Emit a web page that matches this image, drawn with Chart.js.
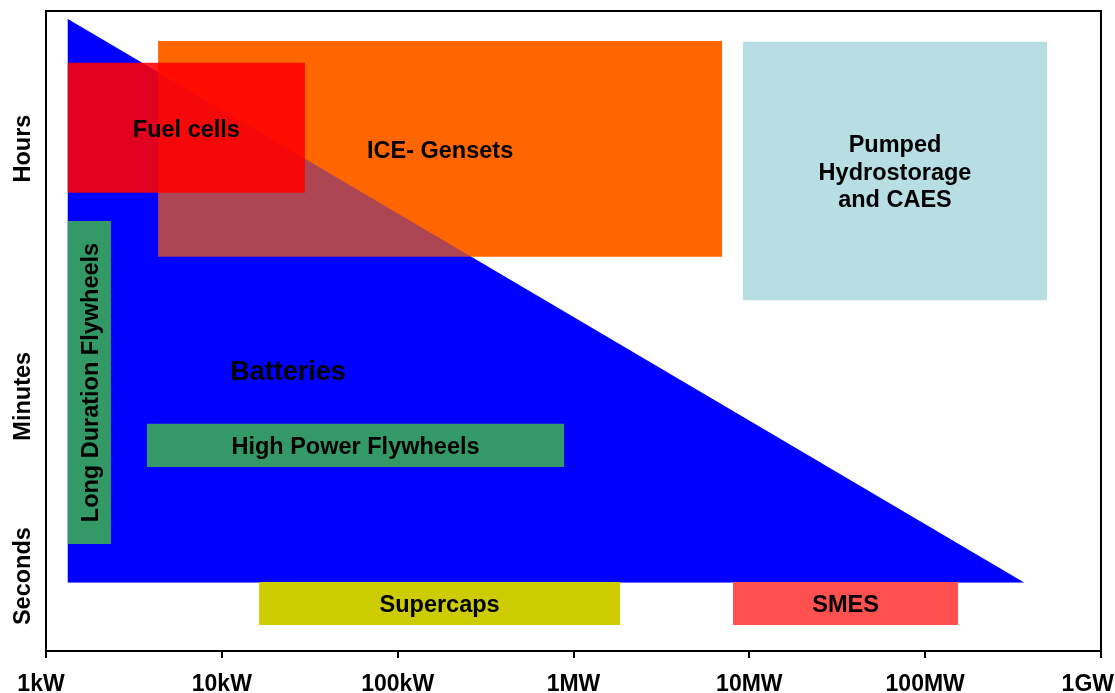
<!DOCTYPE html>
<html>
<head>
<meta charset="utf-8">
<title>Energy storage: power vs. discharge time</title>
<script src="https://cdn.jsdelivr.net/npm/chart.js@4.4.1/dist/chart.umd.min.js"></script>
<style>
  html, body { margin: 0; padding: 0; background: #fff; }
</style>
</head>
<body>
<canvas id="storageChart" width="1115" height="693"></canvas>
<script>
// --- DATA ---
// rectangles: power range in kW (log axis), duration on a 0-100 qualitative scale
const technologies = ['ICE- Gensets', 'Fuel cells', 'Pumped\nHydrostorage\nand CAES', 'Long Duration Flywheels', 'High Power Flywheels', 'Supercaps', 'SMES'];
const powerMinKW = [4.34, 1.33, 9200, 1.33, 3.75, 16.3, 8080];
const powerMaxKW = [7000, 29.7, 493000, 2.34, 884, 1840, 153800];
const durationLow = [61.6, 71.6, 54.8, 16.7, 28.75, 4.06, 4.06];
const durationHigh = [95.3, 91.9, 95.2, 67.2, 35.5, 10.8, 10.8];

// batteries triangle
const batteryPowerKW = [1.33, 1.33, 365000];
const batteryDuration = [98.75, 10.7, 10.7];
const batteryLabelPoint = [23.8, 43.5];

// axes
const powerTicks = [1, 10, 100, 1000, 10000, 100000, 1000000];
const powerTickLabels = ['1kW', '10kW', '100kW', '1MW', '10MW', '100MW', '1GW'];
const durationTicks = [11.7, 39.8, 78.5];
const durationTickLabels = ['Seconds', 'Minutes', 'Hours'];

// --- STYLE ---
const techColors = ['#FF6600', 'rgba(255,0,0,0.88)', '#B7DEE3', '#339966', '#339966', '#CCCC00', '#FF5050'];
const FONT = '"Liberation Sans", Arial, sans-serif';

function rectPoints(i) {
    return [
        { x: powerMinKW[i], y: durationLow[i] },
        { x: powerMaxKW[i], y: durationLow[i] },
        { x: powerMaxKW[i], y: durationHigh[i] },
        { x: powerMinKW[i], y: durationHigh[i] },
        { x: powerMinKW[i], y: durationLow[i] }
    ];
}

function shape(label, data, color, order) {
    return {
        label: label, data: data, backgroundColor: color, order: order,
        fill: 'shape', borderColor: 'transparent', borderWidth: 0,
        pointRadius: 0, pointHoverRadius: 0, tension: 0
    };
}

const batteryPoints = batteryPowerKW.map((p, i) => ({ x: p, y: batteryDuration[i] }));
batteryPoints.push(batteryPoints[0]);

// higher order is drawn first
const datasets = [
    shape('Batteries', batteryPoints, '#0000FF', 30),
    shape(technologies[0], rectPoints(0), techColors[0], 29),
    shape('Batteries overlap', batteryPoints, 'rgba(0,0,255,0.32)', 28)
];
for (let i = 1; i < technologies.length; i++) {
    datasets.push(shape(technologies[i], rectPoints(i), techColors[i], 20 - i));
}

// --- TEXTS AND FRAME ---
const textPlugin = {
    id: 'textPlugin',
    afterDraw(chart) {
        const { ctx, chartArea: area, scales: { x, y } } = chart;
        ctx.save();

        // top and right frame
        ctx.strokeStyle = '#000';
        ctx.lineWidth = 2;
        ctx.beginPath();
        ctx.moveTo(area.left - 1, area.top);
        ctx.lineTo(area.right, area.top);
        ctx.lineTo(area.right, area.bottom);
        ctx.stroke();

        ctx.fillStyle = '#000';
        ctx.textAlign = 'center';
        ctx.textBaseline = 'middle';

        // labels inside the boxes
        ctx.font = 'bold 23.5px ' + FONT;
        technologies.forEach((name, i) => {
            const x0 = x.getPixelForValue(powerMinKW[i]);
            const x1 = x.getPixelForValue(powerMaxKW[i]);
            const y0 = y.getPixelForValue(durationHigh[i]);
            const y1 = y.getPixelForValue(durationLow[i]);
            const cx = (x0 + x1) / 2, cy = (y0 + y1) / 2;
            if (y1 - y0 > x1 - x0) {
                ctx.save();
                ctx.translate(cx + 2, cy);
                ctx.rotate(-Math.PI / 2);
                ctx.fillText(name, 0, 0);
                ctx.restore();
            } else {
                const lines = name.split('\n');
                const lh = 27.5;
                lines.forEach((ln, k) => {
                    ctx.fillText(ln, cx, cy + (k - (lines.length - 1) / 2) * lh + 2.5);
                });
            }
        });

        ctx.font = 'bold 27px ' + FONT;
        ctx.fillText('Batteries', x.getPixelForValue(batteryLabelPoint[0]), y.getPixelForValue(batteryLabelPoint[1]));

        // y axis labels
        ctx.font = 'bold 23.5px ' + FONT;
        durationTicks.forEach((v, i) => {
            ctx.save();
            ctx.translate(24, y.getPixelForValue(v));
            ctx.rotate(-Math.PI / 2);
            ctx.fillText(durationTickLabels[i], 0, 0);
            ctx.restore();
        });

        // x axis labels, kept inside the canvas
        ctx.font = 'bold 23px ' + FONT;
        ctx.textBaseline = 'alphabetic';
        powerTicks.forEach((v, i) => {
            const w = ctx.measureText(powerTickLabels[i]).width;
            let px = x.getPixelForValue(v);
            if (i === 0) px -= 5;
            px = Math.min(chart.width - w / 2 - 1, Math.max(w / 2 + 1, px));
            ctx.fillText(powerTickLabels[i], px, 691);
        });

        ctx.restore();
    }
};

new Chart(document.getElementById('storageChart'), {
    type: 'line',
    data: { datasets: datasets },
    options: {
        responsive: false,
        animation: false,
        events: [],
        layout: { padding: { top: 11, right: 14, left: 0, bottom: 0 } },
        plugins: { legend: { display: false }, tooltip: { enabled: false } },
        scales: {
            x: {
                type: 'logarithmic',
                min: 1,
                max: 1000000,
                afterBuildTicks: scale => { scale.ticks = powerTicks.map(v => ({ value: v })); },
                afterFit: scale => { scale.height = 42; scale.paddingLeft = 0; scale.paddingRight = 0; },
                ticks: { display: false },
                grid: { drawOnChartArea: false, drawTicks: true, tickLength: 7, color: '#000', lineWidth: 2 },
                border: { display: true, color: '#000', width: 2 }
            },
            y: {
                type: 'linear',
                min: 0,
                max: 100,
                afterBuildTicks: scale => { scale.ticks = durationTicks.map(v => ({ value: v })); },
                afterFit: scale => { scale.width = 46; },
                ticks: { display: false },
                grid: { display: false },
                border: { display: true, color: '#000', width: 2 }
            }
        }
    },
    plugins: [textPlugin]
});
</script>
</body>
</html>
